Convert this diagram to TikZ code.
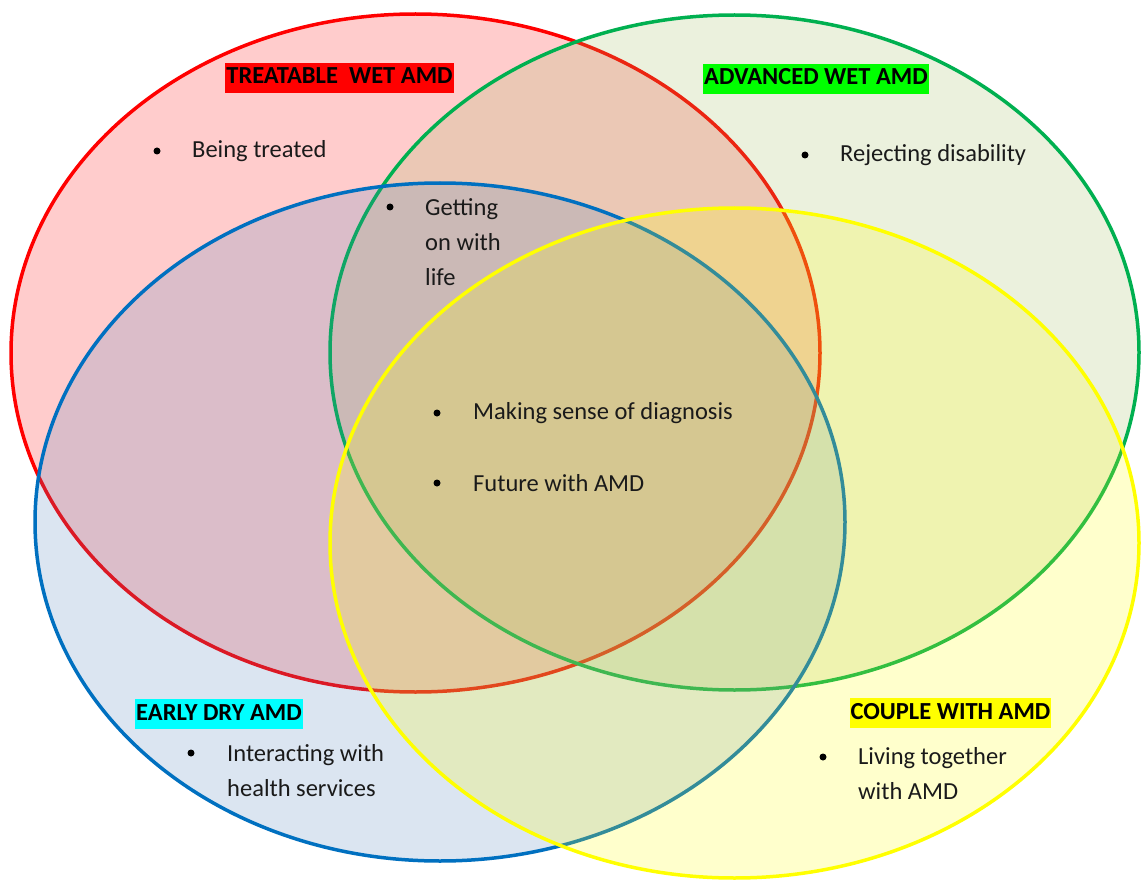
\documentclass[tikz,border=0pt]{standalone}
\usepackage{fontspec}
\setmainfont{Carlito}
\definecolor{fRed}{HTML}{FF0000}
\definecolor{fGreen}{HTML}{9BBB59}
\definecolor{fBlue}{HTML}{4F81BD}
\definecolor{fYellow}{HTML}{FFFF00}
\definecolor{sRed}{HTML}{FF0000}
\definecolor{sGreen}{HTML}{00B050}
\definecolor{sBlue}{HTML}{0070C0}
\definecolor{sYellow}{HTML}{FFFF00}
\definecolor{hRed}{HTML}{FF0000}
\definecolor{hGreen}{HTML}{00FF00}
\definecolor{hCyan}{HTML}{00FFFF}
\definecolor{hYellow}{HTML}{FFFF00}
\definecolor{txt}{HTML}{1A1A1A}
\tikzset{
  setshape/.style={fill opacity=0.2, line width=3.5pt},
  lbl/.style={font=\bfseries\fontsize{24.5}{30}\selectfont, inner xsep=1pt, inner ysep=0pt, text height=18pt, text depth=6pt, minimum height=30pt, text=black},
  item/.style={font=\fontsize{24.5}{35}\selectfont, anchor=west, align=left, inner sep=0pt, text=txt},
  bdot/.style={circle, fill=black, inner sep=0pt, minimum size=7pt},
}
\begin{document}
\begin{tikzpicture}[x=1pt,y=-1pt]
\useasboundingbox (0,0) rectangle (1144,880);
\fill[white] (0,0) rectangle (1144,880);
% sets
\draw[setshape, draw=sRed, fill=fRed] (415.5,353) ellipse [x radius=404.5pt, y radius=339pt];
\draw[setshape, draw=sGreen, fill=fGreen] (734.5,352.5) ellipse [x radius=404.5pt, y radius=337.5pt];
\draw[setshape, draw=sBlue, fill=fBlue] (440,522) ellipse [x radius=405pt, y radius=339pt];
\draw[setshape, draw=sYellow, fill=fYellow] (734.5,543) ellipse [x radius=404.5pt, y radius=335pt];
% labels
\node[lbl, fill=hRed] (lTreat) at (339.5,78) {TREATABLE\ \ WET AMD};
\node[lbl, fill=hGreen] (lAdv) at (816,79) {ADVANCED WET AMD};
\node[lbl, fill=hCyan] (lEarly) at (219,714) {EARLY DRY AMD};
\node[lbl, fill=hYellow] (lCouple) at (950.5,713) {COUPLE WITH AMD};
% items
\node[bdot] (b1) at (157,151) {};
\node[item] (t1) at (192,151) {Being treated};
\node[bdot] (b2) at (390,207) {};
\node[item] (t2) at (425,242) {Getting\\on with\\life};
\node[bdot] (b3) at (805,155) {};
\node[item] (t3) at (840,155) {Rejecting disability};
\node[bdot] (b4) at (437,413) {};
\node[item] (t4) at (473,413) {Making sense of diagnosis};
\node[bdot] (b5) at (437,483) {};
\node[item] (t5) at (473,483) {Future with AMD};
\node[bdot] (b6) at (191,753) {};
\node[item] (t6) at (227,770.5) {Interacting with\\health services};
\node[bdot] (b7) at (823,757) {};
\node[item] (t7) at (858,773.5) {Living together\\with AMD};
\end{tikzpicture}
\end{document}
